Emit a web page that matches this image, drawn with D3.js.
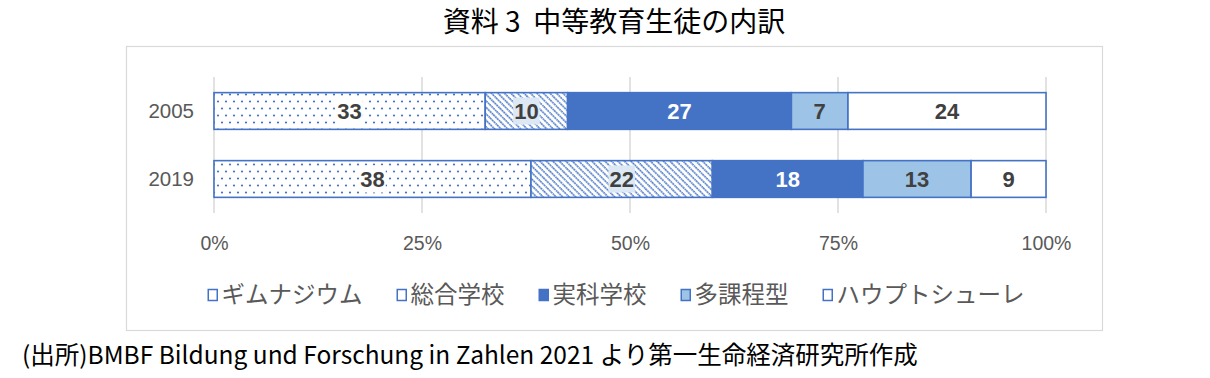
<!DOCTYPE html>
<html><head><meta charset="utf-8">
<script src="https://cdn.jsdelivr.net/npm/d3@7"></script>
<style>
html,body{margin:0;padding:0;background:#fff;}
svg{display:block;}
</style></head>
<body>
<svg id="chart" width="1210" height="378"></svg>
<script>
const titleText = "資料 3  中等教育生徒の内訳";
const sourceText = "(出所)BMBF Bildung und Forschung in Zahlen 2021 より第一生命経済研究所作成";
const years = ["2005", "2019"];
const seriesNames = ["ギムナジウム", "総合学校", "実科学校", "多課程型", "ハウプトシューレ"];
const values2005 = [32.6, 9.9, 26.9, 6.8, 23.8];
const values2019 = [38.1, 21.8, 18.1, 13.0, 9.0];
const tickValues = [0, 25, 50, 75, 100];

const valuesByYear = {"2005": values2005, "2019": values2019};
const BLUE = "#4472c4";
const LIGHT = "#9dc3e6";
const fills = ["url(#dots)", "url(#hatch)", BLUE, LIGHT, "#ffffff"];
const legendFills = ["#ffffff", "#ffffff", BLUE, LIGHT, "#ffffff"];
const labelColors = ["#404040", "#404040", "#ffffff", "#404040", "#404040"];
const labelBg = ["#ffffff", "#dde8f5", null, null, null];

const svg = d3.select("#chart");
svg.append("rect").attr("width", 1210).attr("height", 378).attr("fill", "#fff");

const defs = svg.append("defs");
const pd = defs.append("pattern").attr("id", "dots").attr("patternUnits", "userSpaceOnUse")
  .attr("width", 8).attr("height", 14);
pd.append("rect").attr("width", 8).attr("height", 14).attr("fill", "#fff");
pd.append("circle").attr("cx", 2).attr("cy", 3.5).attr("r", 1.1).attr("fill", BLUE);
pd.append("circle").attr("cx", 6).attr("cy", 10.5).attr("r", 1.1).attr("fill", BLUE);

const ph = defs.append("pattern").attr("id", "hatch").attr("patternUnits", "userSpaceOnUse")
  .attr("width", 4.6).attr("height", 10).attr("patternTransform", "rotate(-45)");
ph.append("rect").attr("width", 4.6).attr("height", 10).attr("fill", "#fff");
ph.append("line").attr("x1", 1).attr("x2", 1).attr("y1", 0).attr("y2", 10)
  .attr("stroke", BLUE).attr("stroke-width", 1.6).attr("stroke-dasharray", "1.8 0.8");

// chart frame
svg.append("rect").attr("x", 126.5).attr("y", 46.5).attr("width", 976).attr("height", 284)
  .attr("fill", "none").attr("stroke", "#d9d9d9").attr("stroke-width", 1.2);

// title
svg.append("text").attr("x", 614).attr("y", 32).attr("text-anchor", "middle")
  .attr("font-family", "'Noto Sans CJK JP', sans-serif").attr("font-size", 28)
  .attr("fill", "#000").style("white-space", "pre").text(titleText);

const x = d3.scaleLinear().domain([0, 100]).range([214, 1046]);
const y = d3.scaleBand().domain(years).range([77, 213]).paddingInner(0.46).paddingOuter(0.23);

// gridlines
svg.append("g").selectAll("line").data(tickValues).join("line")
  .attr("x1", d => x(d)).attr("x2", d => x(d)).attr("y1", 77).attr("y2", 213)
  .attr("stroke", "#d9d9d9").attr("stroke-width", 1.5);

// x axis labels
const xAxis = d3.axisBottom(x).tickValues(tickValues).tickFormat(d => d + "%").tickSize(0).tickPadding(0);
const gx = svg.append("g").attr("transform", "translate(0,236)").call(xAxis);
gx.select(".domain").remove();
gx.selectAll("text").attr("font-family", "'Liberation Sans', Arial, sans-serif")
  .attr("font-size", 19.5).attr("fill", "#595959").attr("dy", "0.35em").attr("y", 7);

// y axis labels
const yAxis = d3.axisLeft(y).tickSize(0).tickPadding(0);
const gy = svg.append("g").attr("transform", "translate(194,0)").call(yAxis);
gy.select(".domain").remove();
gy.selectAll("text").attr("font-family", "'Liberation Sans', Arial, sans-serif")
  .attr("font-size", 20.5).attr("fill", "#595959").attr("x", 0);

// stacked bars
const stackData = years.map(yr => {
  const o = {year: yr};
  seriesNames.forEach((s, i) => o[s] = valuesByYear[yr][i]);
  return o;
});
const stack = d3.stack().keys(seriesNames)(stackData);

const gBars = svg.append("g");
stack.forEach((layer, i) => {
  gBars.append("g").selectAll("rect").data(layer).join("rect")
    .attr("x", d => x(d[0])).attr("width", d => x(d[1]) - x(d[0]))
    .attr("y", d => y(d.data.year)).attr("height", y.bandwidth())
    .attr("fill", fills[i]).attr("stroke", BLUE).attr("stroke-width", 1.6);
});

// labels
const fmt = d3.format(".0f");
const gLab = svg.append("g");
stack.forEach((layer, i) => {
  layer.forEach(d => {
    const cx = (x(d[0]) + x(d[1])) / 2;
    const cy = y(d.data.year) + y.bandwidth() / 2;
    const g = gLab.append("g");
    const t = g.append("text").attr("x", cx).attr("y", cy).attr("dy", "0.36em")
      .attr("text-anchor", "middle").attr("font-family", "'Liberation Sans', Arial, sans-serif")
      .attr("font-weight", "bold").attr("font-size", 22).attr("fill", labelColors[i])
      .text(fmt(d[1] - d[0]));
    if (labelBg[i]) {
      const w = t.node().getComputedTextLength();
      g.insert("rect", "text").attr("x", cx - w / 2 - 1).attr("y", cy - 13.5)
        .attr("width", w + 2).attr("height", 27).attr("fill", labelBg[i]);
    }
  });
});

// legend
const gLeg = svg.append("g");
let cur = 0;
seriesNames.forEach((s, i) => {
  const g = gLeg.append("g");
  g.append("rect").attr("x", cur + 0.75).attr("y", 295 - 5.5).attr("width", 9).attr("height", 11)
    .attr("fill", legendFills[i]).attr("stroke", BLUE).attr("stroke-width", 1.5);
  const t = g.append("text").attr("x", cur + 14).attr("y", 295).attr("dy", "0.35em")
    .attr("font-family", "'Noto Sans CJK JP', sans-serif").attr("font-size", 23.5)
    .attr("fill", "#595959").text(s);
  const w = t.node().getComputedTextLength();
  cur += 14 + w + 34;
});
const totalW = cur - 34;
gLeg.attr("transform", `translate(${616 - totalW / 2},0)`);

// source
svg.append("text").attr("x", 22).attr("y", 355).attr("dy", "0.35em")
  .attr("font-family", "'Noto Sans CJK JP', sans-serif").attr("font-size", 24.5)
  .attr("fill", "#000").text(sourceText);
</script>
</body></html>
